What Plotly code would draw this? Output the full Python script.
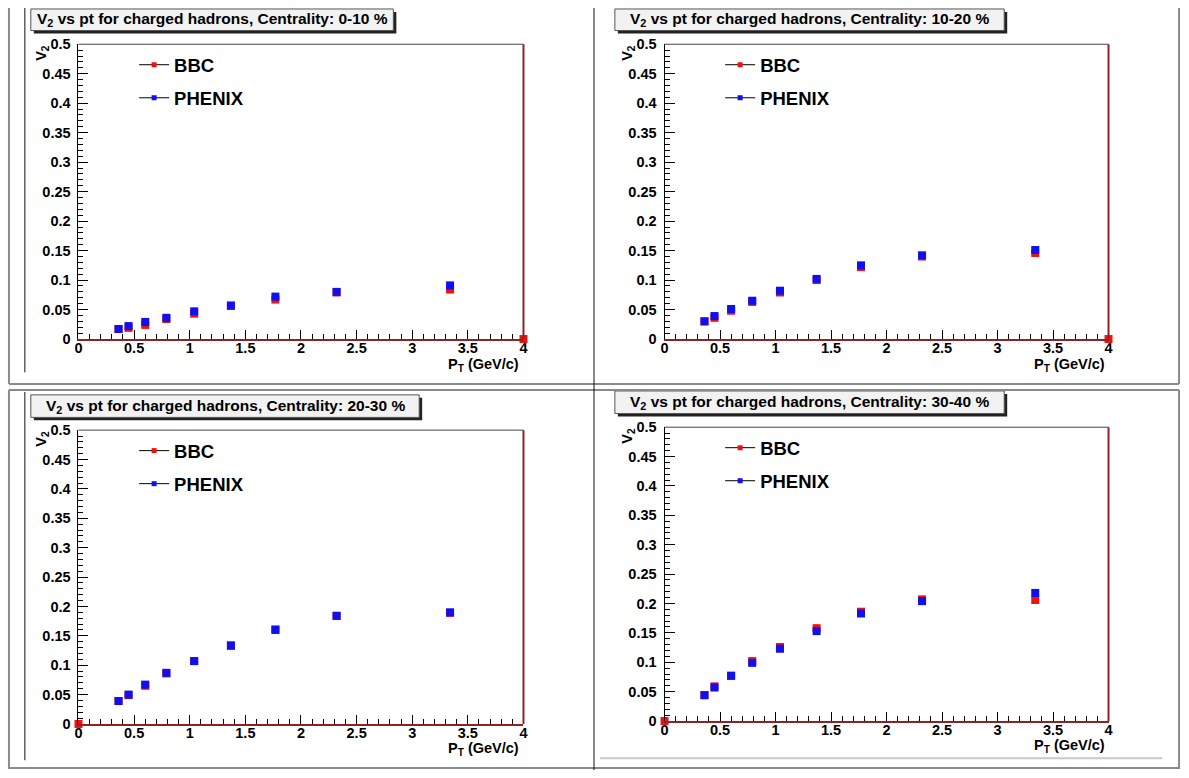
import plotly.graph_objects as go

# ---------------- data ----------------
pt = [0.36, 0.45, 0.60, 0.79, 1.04, 1.37, 1.77, 2.32, 3.34]

centralities = ["0-10", "10-20", "20-30", "30-40"]

phenix_v2_c0 = [0.017, 0.022, 0.029, 0.036, 0.047, 0.057, 0.072, 0.080, 0.091]
bbc_v2_c0 = [0.017, 0.019, 0.024, 0.034, 0.043, 0.056, 0.067, 0.079, 0.084]
phenix_v2_c1 = [0.030, 0.039, 0.051, 0.065, 0.082, 0.102, 0.125, 0.142, 0.151]
bbc_v2_c1 = [0.030, 0.036, 0.048, 0.063, 0.079, 0.100, 0.122, 0.140, 0.146]
phenix_v2_c2 = [0.039, 0.050, 0.067, 0.087, 0.107, 0.133, 0.160, 0.184, 0.190]
bbc_v2_c2 = [0.039, 0.049, 0.065, 0.086, 0.107, 0.134, 0.161, 0.184, 0.189]
phenix_v2_c3 = [0.044, 0.057, 0.077, 0.099, 0.123, 0.153, 0.183, 0.204, 0.218]
bbc_v2_c3 = [0.044, 0.059, 0.077, 0.102, 0.126, 0.158, 0.186, 0.207, 0.206]

# extra BBC point drawn at the frame corner
bbc_extra_pt = [4.0, 4.0, 0.0, 0.0]
bbc_extra_v2 = [0.0, 0.0, 0.0, 0.0]

x_tickvals = [0, 0.5, 1, 1.5, 2, 2.5, 3, 3.5, 4]
x_ticktext = ["0", "0.5", "1", "1.5", "2", "2.5", "3", "3.5", "4"]
y_tickvals = [0, 0.05, 0.1, 0.15, 0.2, 0.25, 0.3, 0.35, 0.4, 0.45, 0.5]
y_ticktext = ["0", "0.05", "0.1", "0.15", "0.2", "0.25", "0.3", "0.35", "0.4", "0.45", "0.5"]

phenix_all = [phenix_v2_c0, phenix_v2_c1, phenix_v2_c2, phenix_v2_c3]
bbc_all = [bbc_v2_c0, bbc_v2_c1, bbc_v2_c2, bbc_v2_c3]

# ---------------- layout helpers ----------------
W, H = 1189, 778
FONT = "Liberation Sans, Arial, sans-serif"
RED = "#ee1111"
BLUE = "#1010ee"
FRAME_RED = "#8b2424"


def px(v):
    return v / W


def py(v):
    return 1 - v / H


def bold(labels, pad=""):
    return ["<b>%s</b>%s" % (s, pad) for s in labels]


# plot area pixels (left, right, top, bottom)
panels = [
    (75, 523, 37, 338),
    (665, 1112, 37, 338),
    (75, 523, 431, 731),
    (665, 1112, 428, 728),
]
# title boxes (left, right, top, bottom)
title_boxes = [
    (27, 392, 1, 23),
    (615, 1007, 1, 23),
    (27, 418, 395, 418),
    (615, 1007, 391, 414),
]

fig = go.Figure()
shapes = []
annotations = []

for i in range(4):
    n = "" if i == 0 else str(i + 1)
    xa, ya = "x" + n, "y" + n
    L, R, T, B = panels[i]

    bx = pt + [bbc_extra_pt[i]]
    by = bbc_all[i] + [bbc_extra_v2[i]]
    if bbc_extra_pt[i] == 0.0:
        bx = [bbc_extra_pt[i]] + pt
        by = [bbc_extra_v2[i]] + bbc_all[i]

    legname = "legend" + n
    fig.add_trace(go.Scatter(x=bx, y=by, mode="markers", xaxis=xa, yaxis=ya,
                             marker=dict(symbol="square", size=8, color=RED),
                             cliponaxis=False, showlegend=False))
    fig.add_trace(go.Scatter(x=pt, y=phenix_all[i], mode="markers", xaxis=xa, yaxis=ya,
                             marker=dict(symbol="square", size=8, color=BLUE),
                             cliponaxis=False, showlegend=False))
    # legend entries
    fig.add_trace(go.Scatter(x=[None], y=[None], mode="lines+markers", name="<b>BBC</b>",
                             xaxis=xa, yaxis=ya, legend=legname, legendgroup="bbc" + n,
                             line=dict(color="black", width=1),
                             marker=dict(symbol="square", size=5, color=RED)))
    fig.add_trace(go.Scatter(x=[None], y=[None], mode="lines+markers", name="<b>PHENIX</b>",
                             xaxis=xa, yaxis=ya, legend=legname, legendgroup="phx" + n,
                             line=dict(color="black", width=1),
                             marker=dict(symbol="square", size=5, color=BLUE)))

    tickfont = dict(family=FONT, size=14.5, color="black", weight="bold")
    fig.update_layout(**{
        "xaxis" + n: dict(domain=[px(L), px(R)], anchor=ya, range=[0, 4],
                          showgrid=False, zeroline=False, showline=True,
                          linecolor=FRAME_RED, linewidth=2,
                          ticks="inside", ticklen=9, tickcolor="black", tickwidth=1,
                          tickmode="array", tickvals=x_tickvals, ticktext=bold(x_ticktext),
                          tickfont=tickfont, ticklabelstandoff=-5,
                          minor=dict(ticks="inside", ticklen=5, tickcolor="black",
                                     dtick=0.1, tick0=0)),
        "yaxis" + n: dict(domain=[py(B), py(T)], anchor=xa, range=[0, 0.5],
                          showgrid=False, zeroline=False, showline=True,
                          linecolor="black", linewidth=1,
                          ticks="inside", ticklen=10, tickcolor="black", tickwidth=1,
                          tickmode="array", tickvals=y_tickvals,
                          ticktext=bold(y_ticktext, "\u00a0"),
                          tickfont=tickfont,
                          minor=dict(ticks="inside", ticklen=5, tickcolor="black",
                                     dtick=0.01, tick0=0)),
        legname: dict(x=px(L + 56), y=py(T + 2), xanchor="left", yanchor="top",
                      xref="paper", yref="paper",
                      bgcolor="rgba(0,0,0,0)", borderwidth=0,
                      font=dict(family=FONT, size=18.5, color="black"),
                      itemwidth=30, tracegroupgap=6, traceorder="grouped"),
    })

    # frame top and right
    shapes.append(dict(type="line", xref=xa + " domain", yref=ya + " domain",
                       x0=0, x1=1, y0=1, y1=1, line=dict(color="#444444", width=1)))
    shapes.append(dict(type="line", xref=xa + " domain", yref=ya + " domain",
                       x0=1, x1=1, y0=0, y1=1, line=dict(color=FRAME_RED, width=2)))

    # title box with shadow
    tl, tr, tt, tb = title_boxes[i]
    shapes.append(dict(type="rect", xref="paper", yref="paper",
                       x0=px(tl + 3), x1=px(tr + 3), y0=py(tb + 3), y1=py(tt + 3),
                       fillcolor="#222222", line=dict(width=0)))
    shapes.append(dict(type="rect", xref="paper", yref="paper",
                       x0=px(tl), x1=px(tr), y0=py(tb), y1=py(tt),
                       fillcolor="#f2f2f2", line=dict(color="#555555", width=1)))
    annotations.append(dict(xref="paper", yref="paper", x=px((tl + tr) / 2),
                            y=py((tt + tb) / 2), xanchor="center", yanchor="middle",
                            showarrow=False,
                            text="<b>V<sub>2</sub> vs pt for charged hadrons, Centrality: %s %%</b>"
                                 % centralities[i],
                            font=dict(family=FONT, size=15.5, color="black")))
    # axis titles
    annotations.append(dict(xref="paper", yref="paper", x=px(L - 37), y=py(T + 9),
                            xanchor="center", yanchor="middle", showarrow=False,
                            textangle=-90, text="<b>V<sub>2</sub></b>",
                            font=dict(family=FONT, size=14.5, color="black")))
    annotations.append(dict(xref="paper", yref="paper", x=px(R - 2), y=py(B + 26),
                            xanchor="right", yanchor="middle", showarrow=False,
                            text="<b>P<sub>T</sub> (GeV/c)</b>",
                            font=dict(family=FONT, size=14.5, color="black")))

# table / canvas borders
GRAY = "#8a8a8a"


def hline(y, x0, x1, color=GRAY, width=2):
    shapes.append(dict(type="line", xref="paper", yref="paper", x0=px(x0), x1=px(x1),
                       y0=py(y), y1=py(y), line=dict(color=color, width=width)))


def vline(x, y0, y1, color=GRAY, width=2):
    shapes.append(dict(type="line", xref="paper", yref="paper", x0=px(x), x1=px(x),
                       y0=py(y0), y1=py(y1), line=dict(color=color, width=width)))


vline(5, 0, 384)
vline(5, 390, 777)
vline(1183, 0, 384)
vline(1183, 390, 777)
hline(384, 5, 1183)
hline(390, 5, 1183)
hline(776, 5, 1183)
vline(594, 0, 778, color="#111111", width=1)
vline(21, 0, 372, color="#111111", width=1)
vline(21, 392, 768, color="#111111", width=1)
hline(766, 600, 1166, color="#c8c8c8", width=2)

fig.update_layout(width=W, height=H, margin=dict(l=0, r=0, t=0, b=0),
                  paper_bgcolor="white", plot_bgcolor="white",
                  shapes=shapes, annotations=annotations,
                  font=dict(family=FONT, color="black"))

fig.write_html("out.html")
